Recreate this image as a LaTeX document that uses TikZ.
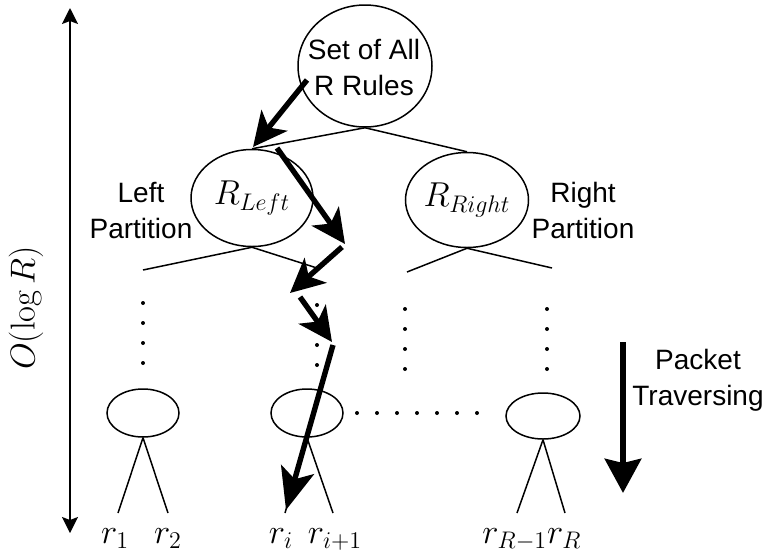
\documentclass[tikz,border=0pt]{standalone}
\usepackage[no-math]{fontspec}
\setmainfont{Liberation Sans}
\usetikzlibrary{arrows.meta,shapes.geometric}
\begin{document}
\begin{tikzpicture}[x=0.5pt,y=-0.5pt,
  every node/.style={inner sep=0pt},
  treenode/.style={draw,ellipse,line width=0.75pt},
  branch/.style={line width=0.75pt},
  dots/.style={line width=2pt,line cap=round,dash pattern=on 0pt off 10pt},
  walk/.style={line width=2.7pt,-{Stealth[length=17pt,width=16.5pt,inset=4.5pt]}},
  txt/.style={font=\fontsize{14pt}{18pt}\selectfont,align=center},
  mlab/.style={font=\fontsize{17pt}{20pt}\selectfont,anchor=base}]
\useasboundingbox (0,0) rectangle (766,558);

% depth axis
\coordinate (axtop) at (70,8);
\coordinate (axbot) at (70,533);
\draw[line width=0.75pt,{Stealth[length=8pt,width=8pt,inset=1.5pt]}-{Stealth[length=8pt,width=8pt,inset=1.5pt]}] (axtop) -- (axbot);
\node[rotate=90,font=\fontsize{18pt}{20pt}\selectfont] (depth) at (26,308) {$O(\log R)$};

% tree nodes
\node[treenode,minimum width=67pt,minimum height=61pt] (root) at (365,66) {};
\node[txt] (roottxt) at (364,67) {Set of All\\R Rules};
\node[treenode,minimum width=61pt,minimum height=48.5pt,font=\fontsize{17pt}{20pt}\selectfont] (rl) at (252,198) {$R_{Left}$};
\node[treenode,minimum width=60pt,minimum height=47.5pt,font=\fontsize{17pt}{20pt}\selectfont] (rr) at (467,200) {$R_{Right}$};
\node[txt] (ltxt) at (141,210) {Left\\Partition};
\node[txt] (rtxt) at (583,210) {Right\\Partition};

\node[treenode,minimum width=36pt,minimum height=24pt] (la) at (143,413) {};
\node[treenode,minimum width=36pt,minimum height=24pt] (lb) at (307,413) {};
\node[treenode,minimum width=37pt,minimum height=23pt] (lc) at (543,416) {};

% branches
\draw[branch] (root.south) -- (rl.north);
\draw[branch] (root.south) -- (rr.north);
\coordinate (rl1) at (143,270);
\coordinate (rl2) at (317,268);
\coordinate (rr1) at (407,272);
\coordinate (rr2) at (552,268);
\draw[branch] (rl.south) -- (rl1);
\draw[branch] (rl.south) -- (rl2);
\draw[branch] (rr.south) -- (rr1);
\draw[branch] (rr.south) -- (rr2);

% elided levels
\coordinate (d1a) at (143,303); \coordinate (d1b) at (143,383);
\coordinate (d2a) at (317,305); \coordinate (d2b) at (317,385);
\coordinate (d3a) at (405,309); \coordinate (d3b) at (405,389);
\coordinate (d4a) at (547,309); \coordinate (d4b) at (547,389);
\coordinate (hda) at (357,413); \coordinate (hdb) at (497,413);
\draw[dots] (d1a) -- (d1b);
\draw[dots] (d2a) -- (d2b);
\draw[dots] (d3a) -- (d3b);
\draw[dots] (d4a) -- (d4b);
\draw[dots] (hda) -- (hdb);

% leaves
\node[mlab] (r1) at (115,543) {$r_1$};
\node[mlab] (r2) at (168,543) {$r_2$};
\node[mlab] (ri) at (281,543) {$r_i$};
\node[mlab] (ri1) at (335,543) {$r_{i+1}$};
\node[mlab] (rR) at (532,543) {$r_{R-1}r_R$};
\coordinate (la1) at (118,513); \coordinate (la2) at (168,513);
\coordinate (lb1) at (285,513); \coordinate (lb2) at (333,513);
\coordinate (lc1) at (517,513); \coordinate (lc2) at (565,513);
\draw[branch] (la.south) -- (la1);
\draw[branch] (la.south) -- (la2);
\draw[branch] (lb.south) -- (lb1);
\draw[branch] (lb.south) -- (lb2);
\draw[branch] (lc.south) -- (lc1);
\draw[branch] (lc.south) -- (lc2);

% path of a packet through the tree
\coordinate (w0) at (307,80);  \coordinate (w1) at (253,147);
\coordinate (w2) at (277,148); \coordinate (w3) at (345,244);
\coordinate (w4) at (342,247); \coordinate (w5) at (290,293);
\coordinate (w6) at (300,297); \coordinate (w7) at (332,342);
\coordinate (w8) at (333,345); \coordinate (w9) at (286,510);
\draw[walk] (w0) -- (w1);
\draw[walk] (w2) -- (w3);
\draw[walk] (w4) -- (w5);
\draw[walk] (w6) -- (w7);
\draw[line width=2.7pt,-{Stealth[length=21pt,width=17pt,inset=5pt]}] (w8) -- (w9);

% legend
\coordinate (pa) at (623,342);
\coordinate (pb) at (623,493);
\draw[line width=3.3pt,-{Stealth[length=17pt,width=18pt,inset=2pt]}] (pa) -- (pb);
\node[txt] (ptxt) at (698,380) {Packet\\Traversing};
\end{tikzpicture}
\end{document}
